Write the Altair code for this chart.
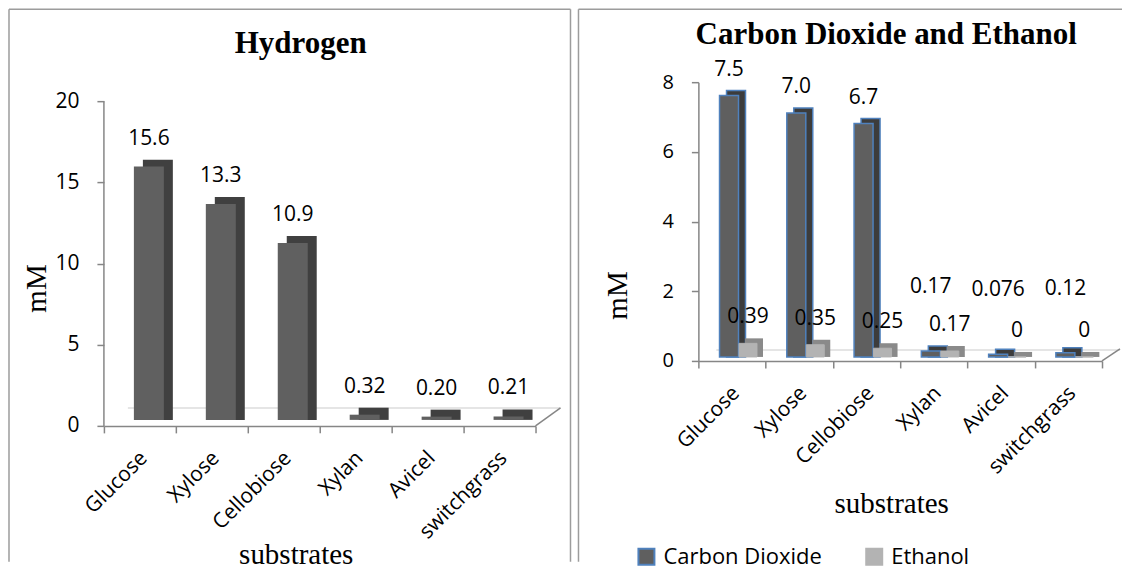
import altair as alt
import pandas as pd

# ---------------- data ----------------
substrates = ["Glucose", "Xylose", "Cellobiose", "Xylan", "Avicel", "switchgrass"]
hydrogen = [15.6, 13.3, 10.9, 0.32, 0.20, 0.21]
hydrogen_labels = ["15.6", "13.3", "10.9", "0.32", "0.20", "0.21"]
co2 = [7.5, 7.0, 6.7, 0.17, 0.076, 0.12]
co2_labels = ["7.5", "7.0", "6.7", "0.17", "0.076", "0.12"]
ethanol = [0.39, 0.35, 0.25, 0.17, 0.0, 0.0]
ethanol_labels = ["0.39", "0.35", "0.25", "0.17", "0", "0"]
series_names = ["Carbon Dioxide", "Ethanol"]
hydrogen_ticks = [0, 5, 10, 15, 20]
gas_ticks = [0, 2, 4, 6, 8]
left_title = "Hydrogen"
right_title = "Carbon Dioxide and Ethanol"
x_title = "substrates"
y_title = "mM"

# ---------------- styles ----------------
SANS = "Open Sans"
SERIF = "Liberation Serif"
AXIS_GRAY = "#868686"
FRAME_GRAY = "#9c9c9c"
FLOOR_LIGHT = "#dcdcdc"

h_df = pd.DataFrame({"substrate": substrates, "value": hydrogen, "label": hydrogen_labels})
g_df = pd.DataFrame({
    "substrate": substrates * 2,
    "series": [series_names[0]] * len(substrates) + [series_names[1]] * len(substrates),
    "value": co2 + ethanol,
    "label": co2_labels + ethanol_labels,
})
one = pd.DataFrame({"k": [0]})


def seg(x1, y1, x2, y2, color, width=1.5):
    return alt.Chart(one).mark_rule(color=color, strokeWidth=width).encode(
        x=alt.value(x1), y=alt.value(y1), x2=alt.value(x2), y2=alt.value(y2)
    )


def heading(text, x, y):
    return alt.Chart(pd.DataFrame({"t": [text]})).mark_text(
        font=SERIF, fontSize=31, fontWeight="bold", color="black",
        align="center", baseline="alphabetic"
    ).encode(text="t:N", x=alt.value(x), y=alt.value(y))


def x_axis(tx, ty):
    return alt.Axis(
        title=x_title, titleFont=SERIF, titleFontSize=29, titleFontWeight="normal",
        titleColor="black", titleX=tx, titleY=ty, titleAlign="center",
        titleBaseline="alphabetic",
        labelFont=SANS, labelFontSize=21, labelColor="black", labelAngle=-45,
        labelAlign="right", labelBaseline="top", labelPadding=14, labelOffset=-4,
        tickBand="extent", tickSize=7, tickColor=AXIS_GRAY, tickWidth=1.5,
        domainColor=AXIS_GRAY, domainWidth=1.5, grid=False,
    )


def y_axis(values, tx, ty, fs, show_domain):
    return alt.Axis(
        values=values, domain=show_domain, domainColor=AXIS_GRAY, domainWidth=1.5,
        title=y_title, titleFont=SERIF, titleFontSize=29, titleFontWeight="normal",
        titleColor="black", titleX=tx, titleY=ty, titleAngle=270,
        titleAlign="center", titleBaseline="middle",
        labelFont=SANS, labelFontSize=fs, labelColor="black", labelPadding=18,
        tickSize=7, tickColor=AXIS_GRAY, tickWidth=1.5, grid=False,
    )


# ---------------- left panel: Hydrogen ----------------
W1, H1 = 432, 344
xh = alt.X("substrate:N", sort=substrates,
           scale=alt.Scale(paddingInner=0, paddingOuter=0), axis=x_axis(192, 138))
yh = alt.Y("value:Q", scale=alt.Scale(domain=[0, 21.17], nice=False),
           axis=y_axis(hydrogen_ticks, -67, 206, 21, False))

base_h = alt.Chart(h_df)
h_shadow = base_h.mark_bar(width=30, xOffset=18, yOffset=-13, y2Offset=-6,
                           color="#404040").encode(x=xh, y=yh, y2=alt.datum(0))
h_front = base_h.mark_bar(width=30, xOffset=9, yOffset=-6, y2Offset=-6,
                          color="#606060").encode(x=xh, y=yh, y2=alt.datum(0))
h_labels = base_h.mark_text(xOffset=9, dy=-34, font=SANS, fontSize=21, color="black",
                            baseline="middle").encode(x=xh, y=yh, text="label:N")
h_axisline = alt.Chart(one).mark_rule(color=AXIS_GRAY, strokeWidth=1.5).encode(
    x=alt.value(0), y=alt.datum(0), y2=alt.datum(20))

left = alt.layer(
    seg(-95, -73, 467, -73, FRAME_GRAY),
    seg(-95, -73, -95, 480, FRAME_GRAY),
    seg(467, -73, 467, 480, FRAME_GRAY),
    seg(24, H1 - 18, W1 + 25, H1 - 18, FLOOR_LIGHT),
    seg(W1, H1, W1 + 25, H1 - 18, AXIS_GRAY),
    h_axisline,
    h_shadow, h_front, h_labels,
    heading(left_title, 197, -29),
).properties(width=W1, height=H1)

# ---------------- right panel: CO2 and ethanol ----------------
W2, H2 = 404, 279
xg = alt.X("substrate:N", sort=substrates,
           scale=alt.Scale(paddingInner=0, paddingOuter=0), axis=x_axis(193, 152))
yg = alt.Y("value:Q", scale=alt.Scale(domain=[0, 8], nice=False),
           axis=y_axis(gas_ticks, -81, 213, 20, True))

legend = alt.Legend(
    title=None, orient="none", legendX=-63, legendY=464, direction="horizontal",
    symbolType="square", symbolSize=256, symbolStrokeWidth=2, symbolOpacity=1,
    labelFont=SANS, labelFontSize=22, labelColor="black", labelLimit=400,
    labelOffset=6, columnPadding=40,
)
color = alt.Color("series:N", scale=alt.Scale(domain=series_names, range=["#5f5f5f", "#b3b3b3"]),
                  legend=legend)
stroke = alt.Stroke("series:N", scale=alt.Scale(domain=series_names, range=["#4f81bd", "#b3b3b3"]),
                    legend=legend)

base_g = alt.Chart(g_df)
is_co2 = alt.datum.series == series_names[0]
is_eth = alt.datum.series == series_names[1]

co2_shadow = base_g.transform_filter(is_co2).mark_bar(
    width=19, xOffset=4, yOffset=-9, y2Offset=-4, color="#3c3c3c",
    stroke="#4f81bd", strokeWidth=1.5).encode(x=xg, y=yg, y2=alt.datum(0))
co2_front = base_g.transform_filter(is_co2).mark_bar(
    width=19, xOffset=-3, yOffset=-4, y2Offset=-4, strokeWidth=1.5).encode(
    x=xg, y=yg, y2=alt.datum(0), color=color, stroke=stroke)
eth_shadow = base_g.transform_filter(is_eth).mark_bar(
    width=18, xOffset=22, yOffset=-9, y2Offset=-4, color="#8a8a8a").encode(
    x=xg, y=yg, y2=alt.datum(0))
eth_front = base_g.transform_filter(is_eth).mark_bar(
    width=18, xOffset=16, yOffset=-4, y2Offset=-4, strokeWidth=1).encode(
    x=xg, y=yg, y2=alt.datum(0), color=color, stroke=stroke)

txt = dict(font=SANS, fontSize=21, color="black", baseline="middle")
co2_lab_big = base_g.transform_filter(is_co2).transform_filter(alt.datum.value >= 1).mark_text(
    xOffset=-3, dy=-30, **txt).encode(x=xg, y=yg, text="label:N")
co2_lab_small = base_g.transform_filter(is_co2).transform_filter(alt.datum.value < 1).mark_text(
    xOffset=-3, dy=-68, **txt).encode(x=xg, y=yg, text="label:N")
eth_lab = base_g.transform_filter(is_eth).mark_text(
    xOffset=16, dy=-30, **txt).encode(x=xg, y=yg, text="label:N")

right = alt.layer(
    seg(-120, -73, 424, -73, FRAME_GRAY),
    seg(-120, -73, -120, 480, FRAME_GRAY),
    seg(18, H2 - 11, W2 + 18, H2 - 11, FLOOR_LIGHT),
    seg(W2, H2, W2 + 18, H2 - 12, AXIS_GRAY),
    co2_shadow, co2_front, eth_shadow, eth_front,
    co2_lab_big, co2_lab_small, eth_lab,
    heading(right_title, 188, -38),
).properties(width=W2, height=H2)

chart = alt.hconcat(left, right, spacing=6).resolve_scale(
    color="independent", stroke="independent"
).resolve_legend(
    color="independent", stroke="independent"
).properties(
    padding=0, background="white"
).configure_view(strokeWidth=0)

chart.save("out.html", embed_options={"renderer": "svg", "actions": False})
